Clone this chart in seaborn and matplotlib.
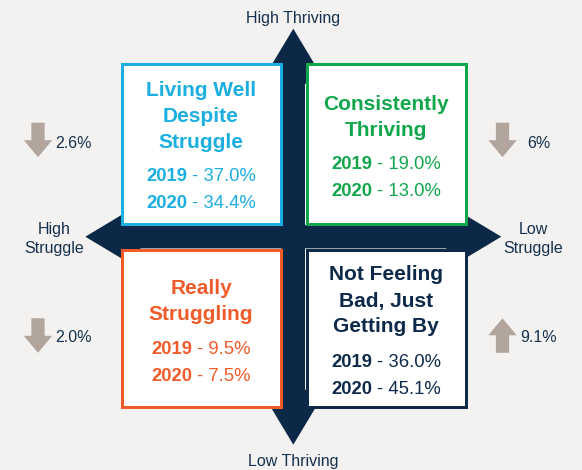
import matplotlib
matplotlib.use("Agg")
import matplotlib.pyplot as plt
import matplotlib.patches as mpatches
import seaborn as sns

# ---- data ----
segment_titles = [
    ["Living Well", "Despite", "Struggle"],
    ["Consistently", "Thriving"],
    ["Really", "Struggling"],
    ["Not Feeling", "Bad, Just", "Getting By"],
]
years = ["2019", "2020"]
pct_2019 = [37.0, 19.0, 9.5, 36.0]
pct_2020 = [34.4, 13.0, 7.5, 45.1]
change_labels = ["2.6%", "6%", "2.0%", "9.1%"]
change_dir = ["down", "down", "down", "up"]
axis_labels = ["High Thriving", "Low Thriving", "High\nStruggle", "Low\nStruggle"]

# ---- style ----
BG = "#f3f2f0"
NAVY = "#0b2946"
TEXT_NAVY = "#14304f"
GRAY_ARROW = "#b2a59d"
seg_colors = ["#1aafe0", "#11a64c", "#f15a29", "#0d2a4a"]

sns.set_theme(style="white")
plt.rcParams["font.family"] = ["Liberation Sans", "DejaVu Sans"]

fig = plt.figure(figsize=(5.82, 4.70), dpi=100)
fig.patch.set_facecolor(BG)
ax = fig.add_axes([0, 0, 1, 1])
ax.set_xlim(0, 582)
ax.set_ylim(470, 0)
ax.set_facecolor(BG)
ax.axis("off")

# ---- cross arrows ----
cx, cy = 293.3, 236.7
L, w, H, hw = 208, 11.7, 55, 33
vert = [(cx, cy - L), (cx + hw, cy - L + H), (cx + w, cy - L + H), (cx + w, cy + L - H),
        (cx + hw, cy + L - H), (cx, cy + L), (cx - hw, cy + L - H), (cx - w, cy + L - H),
        (cx - w, cy - L + H), (cx - hw, cy - L + H)]
horiz = [(x_ - cx + cx, y_) for (x_, y_) in []]
horiz = [(cx - L, cy), (cx - L + H, cy - hw), (cx - L + H, cy - w), (cx + L - H, cy - w),
         (cx + L - H, cy - hw), (cx + L, cy), (cx + L - H, cy + hw), (cx + L - H, cy + w),
         (cx - L + H, cy + w), (cx - L + H, cy + hw)]
for poly in (vert, horiz):
    ax.add_patch(mpatches.Polygon(poly, closed=True, facecolor=NAVY, edgecolor="none", zorder=1))

# ---- boxes ----
bw = 3.0
boxes = [(120, 62.7, 282, 225), (305, 62.7, 467, 225),
         (120, 248, 282, 408.3), (305, 248, 467, 408.3)]
title_start = [96.5, 110.5, 294.5, 280.5]
year_start = [180.6, 168.6, 353.6, 366.6]
title_step = 26.0
year_step = 27.0

fig.canvas.draw()
renderer = fig.canvas.get_renderer()

for i, (x0, y0, x1, y1) in enumerate(boxes):
    col = seg_colors[i]
    ax.add_patch(mpatches.Rectangle((x0 + bw / 2, y0 + bw / 2), (x1 - x0) - bw, (y1 - y0) - bw,
                                    facecolor="white", edgecolor=col, linewidth=bw * 0.72, zorder=2))
    bx = (x0 + x1) / 2
    for j, line in enumerate(segment_titles[i]):
        ax.text(bx, title_start[i] + j * title_step, line, ha="center", va="baseline",
                fontsize=15, fontweight="bold", color=col, zorder=3)
    for j, (yr, val) in enumerate(zip(years, [pct_2019[i], pct_2020[i]])):
        yy = year_start[i] + j * year_step
        t1 = ax.text(0, yy, yr, ha="left", va="baseline", fontsize=13.3,
                     fontweight="bold", color=col, zorder=3)
        t2 = ax.text(0, yy, f"- {val:.1f}%", ha="left", va="baseline", fontsize=13.3,
                     color=col, zorder=3)
        w1 = t1.get_window_extent(renderer).width
        w2 = t2.get_window_extent(renderer).width
        gap = 5.0
        start = bx - (w1 + gap + w2) / 2
        t1.set_x(start)
        t2.set_x(start + w1 + gap)

# ---- axis labels ----
lab_fs = 11.5
ax.text(cx, 22.8, axis_labels[0], ha="center", va="baseline", fontsize=lab_fs, color=TEXT_NAVY)
ax.text(cx, 465.8, axis_labels[1], ha="center", va="baseline", fontsize=lab_fs, color=TEXT_NAVY)
for xx, lab in ((54, axis_labels[2]), (533, axis_labels[3])):
    for k, part in enumerate(lab.split("\n")):
        ax.text(xx, 233.8 + k * 18.7, part, ha="center", va="baseline", fontsize=lab_fs, color=TEXT_NAVY)

# ---- change arrows ----
arrow_x = [38, 502.5, 38, 502.5]
arrow_top = [122.7, 122.7, 318.3, 318.3]
arrow_len = 34.5
text_x = [55.7, 527, 55.7, 520]
text_y = [147.5, 147.5, 341.8, 341.8]
for i in range(4):
    if change_dir[i] == "down":
        ys, dy = arrow_top[i], arrow_len
    else:
        ys, dy = arrow_top[i] + arrow_len, -arrow_len
    ax.add_patch(mpatches.FancyArrow(arrow_x[i], ys, 0, dy, width=13.3, head_width=28.4,
                                     head_length=17, length_includes_head=True,
                                     facecolor=GRAY_ARROW, edgecolor="none", zorder=2))
    ax.text(text_x[i], text_y[i], change_labels[i], ha="left", va="baseline",
            fontsize=lab_fs, color=TEXT_NAVY)

fig.savefig("out.png", dpi=100, facecolor=BG)
